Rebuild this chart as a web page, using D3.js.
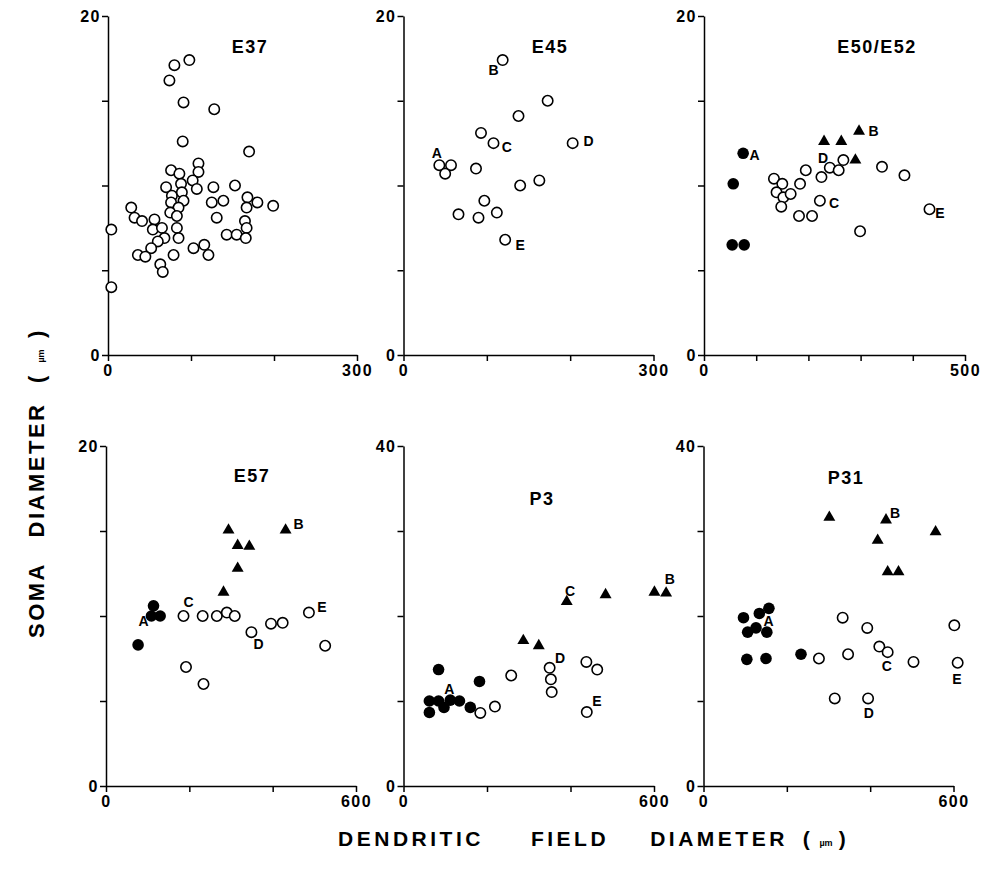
<!DOCTYPE html>
<html>
<head>
<meta charset="utf-8">
<script src="https://cdn.jsdelivr.net/npm/d3@7"></script>
<style>
  body { margin: 0; background: #fff; }
  text { font-family: "Liberation Sans", Arial, sans-serif; font-weight: bold; fill: #000; }
</style>
</head>
<body>
<div id="chart"></div>
<script>
// ---- data: [dendritic field diameter (um), soma diameter (um)] ----
const e37Open = [[4,7.4],[4,4.0],[74,16.2],[80,17.1],[98,17.4],[91,14.9],[128,14.5],[90,12.6],
  [170,12.0],[109,11.3],[109,10.8],[76,10.9],[86,10.7],[102,10.3],[88,10.1],[107,9.8],[70,9.9],
  [127,9.9],[153,10.0],[77,9.4],[89,9.6],[91,9.1],[76,9.0],[125,9.0],[139,9.1],[168,9.3],[180,9.0],
  [199,8.8],[167,8.7],[28,8.7],[85,8.7],[75,8.4],[83,8.2],[32,8.1],[41,7.9],[56,8.0],[131,8.1],
  [165,7.9],[54,7.4],[65,7.5],[83,7.5],[167,7.5],[68,6.9],[60,6.7],[85,6.9],[143,7.1],[155,7.1],
  [166,6.9],[52,6.3],[103,6.3],[116,6.5],[36,5.9],[45,5.8],[79,5.9],[121,5.9],[63,5.35],[66,4.9]];

const e45Open = [[119,17.4],[173,15.0],[138,14.1],[93,13.1],[108,12.5],[203,12.5],[43,11.2],
  [57,11.2],[50,10.7],[87,11.0],[163,10.3],[140,10.0],[97,9.1],[112,8.4],[66,8.3],[90,8.1],[122,6.8]];
const e45Letters = [["A",40,11.9],["B",108,16.8],["C",124,12.25],["D",222,12.6],["E",140,6.5]];

const e50Filled = [[56,10.1],[75,11.9],[54,6.5],[77,6.5]];
const e50Tri = [[230,12.6],[263,12.6],[297,13.2],[290,11.5]];
const e50Open = [[134,10.4],[150,10.1],[139,9.6],[152,9.3],[166,9.5],[148,8.75],[184,10.1],
  [195,10.9],[225,10.5],[241,11.05],[258,10.9],[267,11.5],[182,8.2],[207,8.2],[222,9.1],
  [299,7.3],[341,11.1],[384,10.6],[432,8.6]];
const e50Letters = [["A",97,11.8],["B",325,13.2],["C",249,8.95],["D",228,11.6],["E",452,8.4]];

const e57Filled = [[77,8.3],[114,10.6],[109,10.0],[130,10.0]];
const e57Tri = [[294,15.05],[316,14.15],[344,14.1],[316,12.8],[282,11.4],[431,15.05]];
const e57Open = [[186,10.0],[192,7.0],[234,6.0],[232,10.0],[266,10.0],[290,10.2],[309,10.0],
  [349,9.05],[396,9.55],[424,9.6],[487,10.2],[526,8.25]];
const e57Letters = [["A",90,9.7],["B",462,15.4],["C",198,10.8],["D",366,8.35],["E",518,10.55]];

const p3Filled = [[84,13.7],[62,10.0],[84,10.0],[112,10.1],[134,10.0],[97,9.25],[62,8.65],
  [160,9.25],[182,12.3]];
const p3Tri = [[287,17.1],[324,16.5],[391,21.7],[484,22.5],[601,22.8],[629,22.7]];
const p3Open = [[184,8.6],[219,9.35],[258,13.0],[350,13.9],[353,12.55],[355,11.05],[438,14.6],
  [464,13.7],[439,8.7]];
const p3Letters = [["A",110,11.4],["B",638,24.4],["C",399,23.0],["D",375,15.1],["E",463,10.0]];

const p31Filled = [[96,19.8],[134,20.3],[157,20.9],[106,18.1],[126,18.6],[152,18.1],[104,14.9],
  [150,15.0],[234,15.5]];
const p31Tri = [[302,31.6],[438,31.3],[418,28.9],[442,25.2],[468,25.2],[557,29.9]];
const p31Open = [[277,15.0],[334,19.8],[393,18.6],[347,15.5],[422,16.4],[442,15.75],[504,14.6],
  [602,18.9],[610,14.5],[315,10.3],[395,10.3]];
const p31Letters = [["A",156,19.4],["B",460,32.1],["C",440,14.1],["D",397,8.6],["E",608,12.6]];

// panel titles and axis ranges
const panelTitles = ["E37", "E45", "E50/E52", "E57", "P3", "P31"];
const xMaxes = [300, 300, 500, 600, 600, 600];
const xSteps = [100, 100, 100, 200, 200, 200];
const yMaxes = [20, 20, 20, 20, 40, 40];
const ySteps = [5, 5, 5, 5, 10, 10];

const panelData = [
  { open: e37Open, filled: [], tri: [], letters: [] },
  { open: e45Open, filled: [], tri: [], letters: e45Letters },
  { open: e50Open, filled: e50Filled, tri: e50Tri, letters: e50Letters },
  { open: e57Open, filled: e57Filled, tri: e57Tri, letters: e57Letters },
  { open: p3Open, filled: p3Filled, tri: p3Tri, letters: p3Letters },
  { open: p31Open, filled: p31Filled, tri: p31Tri, letters: p31Letters }
];

// layout (pixels)
const layout = [
  { left: 108, right: 357, top: 16, bottom: 355, tx: 250, ty: 53 },
  { left: 403.5, right: 653.5, top: 16, bottom: 355, tx: 550, ty: 53 },
  { left: 704, right: 965, top: 16, bottom: 355, tx: 877, ty: 53 },
  { left: 106, right: 356, top: 446, bottom: 786, tx: 252, ty: 482 },
  { left: 403.5, right: 654, top: 446, bottom: 786, tx: 542, ty: 505 },
  { left: 703.5, right: 953.5, top: 446, bottom: 786, tx: 846, ty: 484 }
];

const svg = d3.select("#chart")
  .append("svg")
  .attr("width", 981)
  .attr("height", 884);

const triangle = d3.symbol().type(d3.symbolTriangle).size(62);

panelData.forEach((p, i) => {
  const L = layout[i];
  const x = d3.scaleLinear().domain([0, xMaxes[i]]).range([L.left, L.right]);
  const y = d3.scaleLinear().domain([0, yMaxes[i]]).range([L.bottom, L.top]);
  const xTicks = d3.range(0, xMaxes[i] + 1, xSteps[i]);
  const yTicks = d3.range(0, yMaxes[i] + 1, ySteps[i]);

  const g = svg.append("g");

  // axes
  const xAxis = g.append("g")
    .attr("transform", `translate(0,${L.bottom})`)
    .call(d3.axisBottom(x).tickValues(xTicks).tickSize(6).tickSizeOuter(0)
      .tickFormat(v => (v === 0 || v === xMaxes[i]) ? v : ""));
  const yAxis = g.append("g")
    .attr("transform", `translate(${L.left},0)`)
    .call(d3.axisLeft(y).tickValues(yTicks).tickSize(6).tickSizeOuter(0)
      .tickFormat(v => (v === 0 || v === yMaxes[i]) ? v : ""));

  [xAxis, yAxis].forEach(a => {
    a.select(".domain").attr("stroke", "#000").attr("stroke-width", 1.5);
    a.selectAll(".tick line").attr("stroke", "#000").attr("stroke-width", 1.5);
    a.selectAll(".tick text")
      .attr("fill", "#000")
      .style("font-size", "16px")
      .style("letter-spacing", "1.5px");
  });
  xAxis.selectAll(".tick text").attr("y", 10);
  yAxis.selectAll(".tick text").attr("x", -7);

  // title
  g.append("text")
    .attr("x", L.tx)
    .attr("y", L.ty)
    .attr("text-anchor", "middle")
    .style("font-size", "18px")
    .style("letter-spacing", "1.5px")
    .text(panelTitles[i]);

  // open circles
  g.selectAll(".open")
    .data(p.open)
    .join("circle")
    .attr("cx", d => x(d[0]))
    .attr("cy", d => y(d[1]))
    .attr("r", 5.2)
    .attr("fill", "#fff")
    .attr("stroke", "#000")
    .attr("stroke-width", 1.6);

  // filled circles
  g.selectAll(".filled")
    .data(p.filled)
    .join("circle")
    .attr("cx", d => x(d[0]))
    .attr("cy", d => y(d[1]))
    .attr("r", 5.8)
    .attr("fill", "#000");

  // triangles
  g.selectAll(".tri")
    .data(p.tri)
    .join("path")
    .attr("d", triangle)
    .attr("transform", d => `translate(${x(d[0])},${y(d[1])})`)
    .attr("fill", "#000");

  // letter labels
  g.selectAll(".letter")
    .data(p.letters)
    .join("text")
    .attr("x", d => x(d[1]))
    .attr("y", d => y(d[2]))
    .attr("text-anchor", "middle")
    .attr("dominant-baseline", "central")
    .style("font-size", "14px")
    .text(d => d[0]);
});

// y axis title (rotated)
const yTitle = [["SOMA", 600, 22], ["DIAMETER", 470, 22], ["(", 378, 22], ["µm", 356, 9], [")", 333, 22]];
yTitle.forEach(t => {
  svg.append("text")
    .attr("transform", `translate(44,${t[1]}) rotate(-90)`)
    .attr("text-anchor", "middle")
    .style("font-size", t[2] + "px")
    .style("letter-spacing", t[2] > 10 ? "2.5px" : "0px")
    .text(t[0]);
});

// x axis title
const xTitle = [["DENDRITIC", 411, 21], ["FIELD", 570, 21], ["DIAMETER", 719, 21], ["(", 808, 21], ["µm", 826, 9], [")", 844, 21]];
xTitle.forEach(t => {
  svg.append("text")
    .attr("x", t[1])
    .attr("y", 846)
    .attr("text-anchor", "middle")
    .style("font-size", t[2] + "px")
    .style("letter-spacing", t[2] > 10 ? "3.5px" : "0px")
    .text(t[0]);
});
</script>
</body>
</html>
